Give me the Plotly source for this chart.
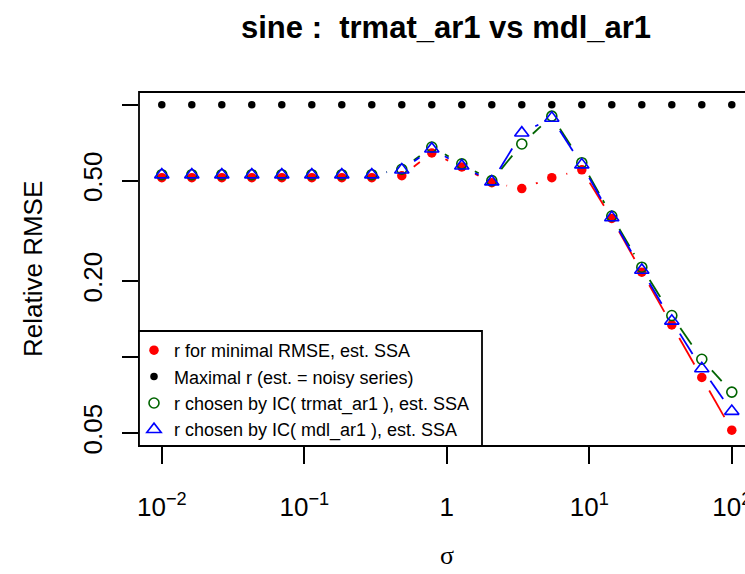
import math
import plotly.graph_objects as go

# ---- data ----
sigma = [0.01, 0.01624, 0.02637, 0.04281, 0.06952, 0.1129, 0.1833, 0.2976,
         0.4833, 0.7848, 1.274, 2.069, 3.360, 5.456, 8.859, 14.38, 23.36,
         37.93, 61.58, 100.0]
rmse_min = [0.514, 0.514, 0.514, 0.514, 0.514, 0.514, 0.514, 0.514,
            0.523, 0.644, 0.567, 0.491, 0.465, 0.514, 0.552, 0.354, 0.217,
            0.134, 0.083, 0.0513]
rmse_max = [1.0] * 20
rmse_trmat = [0.528, 0.528, 0.528, 0.528, 0.528, 0.528, 0.528, 0.528,
              0.555, 0.680, 0.583, 0.500, 0.699, 0.901, 0.589, 0.362, 0.227,
              0.146, 0.098, 0.0726]
rmse_mdl = [0.528, 0.528, 0.528, 0.528, 0.528, 0.528, 0.528, 0.528,
            0.552, 0.668, 0.572, 0.495, 0.773, 0.885, 0.578, 0.357, 0.221,
            0.139, 0.090, 0.061]

legend_labels = ["r for minimal RMSE, est. SSA",
                 "Maximal r (est. = noisy series)",
                 "r chosen by IC( trmat_ar1 ), est. SSA",
                 "r chosen by IC( mdl_ar1 ), est. SSA"]
x_tickvals = [0.01, 0.1, 1, 10, 100]
x_ticktext = ["10<sup>\u22122</sup>", "10<sup>\u22121</sup>", "1",
              "10<sup>1</sup>", "10<sup>2</sup>"]
y_tickvals = [0.05, 0.1, 0.2, 0.5, 1.0]
y_ticktext = ["0.05", " ", "0.20", "0.50", " "]

# ---- layout geometry ----
W, H = 745, 574
ML, MR, MT, MB = 139, 0, 92, 128
PW, PH = W - ML - MR, H - MT - MB
XR = [-2.16, -2.16 + PW / 142.5]
YR = [-1.3526, 0.0504]
PXX = PW / (XR[1] - XR[0])
PXY = PH / (YR[1] - YR[0])

FONT = "Liberation Sans, Arial, Helvetica, sans-serif"


def gapped(xs, ys, gap=15.0):
    """R type='b' style: segments shortened near each point."""
    gx, gy = [], []
    for i in range(len(xs) - 1):
        ax, ay = math.log10(xs[i]) * PXX, math.log10(ys[i]) * PXY
        bx, by = math.log10(xs[i + 1]) * PXX, math.log10(ys[i + 1]) * PXY
        dx, dy = bx - ax, by - ay
        d = math.hypot(dx, dy)
        if d > 2 * gap:
            ux, uy = dx / d, dy / d
            gx += [10 ** ((ax + gap * ux) / PXX), 10 ** ((bx - gap * ux) / PXX), None]
            gy += [10 ** ((ay + gap * uy) / PXY), 10 ** ((by - gap * uy) / PXY), None]
    return gx, gy


fig = go.Figure()

RED, BLACK, GREEN, BLUE = "#FF0000", "#000000", "#006400", "#0000FF"
LW = 1.8

for ys, col, dash in [(rmse_min, RED, "solid"),
                      (rmse_trmat, GREEN, "20px,8px"),
                      (rmse_mdl, BLUE, "24px,8px")]:
    gx, gy = gapped(sigma, ys)
    fig.add_trace(go.Scatter(x=gx, y=gy, mode="lines", showlegend=False,
                             hoverinfo="skip",
                             line=dict(color=col, width=LW, dash=dash)))

fig.add_trace(go.Scatter(x=sigma, y=rmse_min, mode="markers", name=legend_labels[0],
                         marker=dict(symbol="circle", size=9.5, color=RED)))
fig.add_trace(go.Scatter(x=sigma, y=rmse_max, mode="markers", name=legend_labels[1],
                         marker=dict(symbol="circle", size=7.5, color=BLACK)))
fig.add_trace(go.Scatter(x=sigma, y=rmse_trmat, mode="markers", name=legend_labels[2],
                         marker=dict(symbol="circle-open", size=10, color=GREEN,
                                     line=dict(width=1.6, color=GREEN))))
fig.add_trace(go.Scatter(x=sigma, y=rmse_mdl, mode="markers", name=legend_labels[3],
                         marker=dict(symbol="triangle-up-open", size=12.5, color=BLUE,
                                     line=dict(width=1.6, color=BLUE))))

# legend box (R style)
lx0, lx1 = 0.0, (482 - ML) / PW
ly0, ly1 = 0.0, (446 - 331) / PH

fig.update_layout(
    width=W, height=H,
    margin=dict(l=ML, r=MR, t=MT, b=MB, pad=0, autoexpand=False),
    paper_bgcolor="white", plot_bgcolor="white",
    font=dict(family=FONT, color="black", size=26),
    showlegend=True,
    legend=dict(x=(134 - ML) / PW, y=(446 - 390) / PH, xanchor="left", yanchor="middle",
                bgcolor="rgba(0,0,0,0)", borderwidth=0,
                font=dict(family=FONT, size=18, color="black"),
                tracegroupgap=0, itemsizing="trace"),
    xaxis=dict(type="log", range=XR, showgrid=False, zeroline=False, showline=False,
               automargin=False,
               tickmode="array", tickvals=x_tickvals, ticktext=x_ticktext,
               ticks="outside", ticklen=17, tickwidth=LW, tickcolor="black",
               tickfont=dict(size=26, family=FONT), ticklabeloverflow="allow",
               ticklabelstandoff=21),
    yaxis=dict(type="log", range=YR, showgrid=False, zeroline=False, showline=False,
               automargin=False,
               tickmode="array", tickvals=y_tickvals, ticktext=y_ticktext,
               ticks="outside", ticklen=16, tickwidth=LW, tickcolor="black",
               tickangle=-90, tickfont=dict(size=26, family=FONT),
               ticklabelstandoff=10),
    shapes=[
        dict(type="rect", xref="paper", yref="paper", x0=0, x1=1.05, y0=0, y1=1,
             line=dict(color="black", width=LW), fillcolor="rgba(0,0,0,0)", layer="above"),
        dict(type="rect", xref="paper", yref="paper", x0=lx0, x1=lx1, y0=ly0, y1=ly1,
             line=dict(color="black", width=LW), fillcolor="white", layer="above"),
    ],
    annotations=[
        dict(text="<b>sine :  trmat_ar1 vs mdl_ar1</b>", xref="paper", yref="paper",
             x=(446 - ML) / PW, y=(MT - 28) / PH + 1, xanchor="center", yanchor="middle",
             showarrow=False, font=dict(family=FONT, size=31, color="black")),
        dict(text="Relative RMSE", xref="paper", yref="paper",
             x=(33 - ML) / PW, y=0.5, xanchor="center", yanchor="middle",
             textangle=-90, showarrow=False, font=dict(family=FONT, size=26, color="black")),
        dict(text="\u03c3", xref="paper", yref="paper",
             x=(447 - ML) / PW, y=-(555 - 446) / PH, xanchor="center", yanchor="middle",
             showarrow=False,
             font=dict(family="Liberation Serif, DejaVu Serif, serif", size=26, color="black")),
    ],
)

fig.write_html("out.html")
